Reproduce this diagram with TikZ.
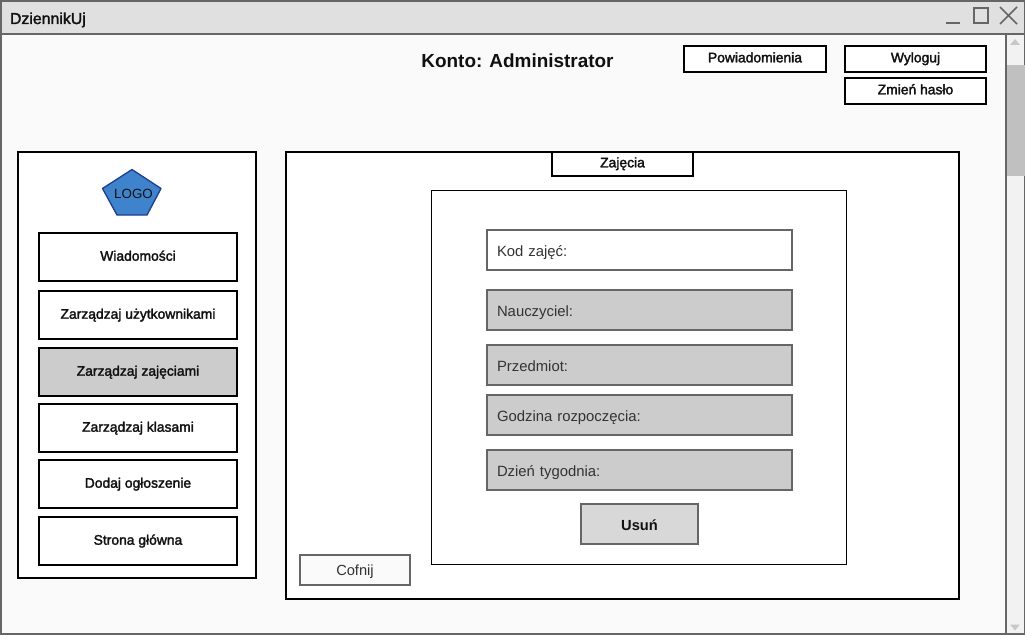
\documentclass[tikz,border=0pt]{standalone}
\usepackage{fontspec}
\setmainfont{Liberation Sans}
\newcommand{\medtext}[1]{\special{pdf:code 2 Tr 0.22 w}#1\special{pdf:code 0 Tr 1 w}}
\definecolor{pagebg}{HTML}{FAFAFA}
\definecolor{barbg}{HTML}{E0E0E0}
\definecolor{edge}{HTML}{666666}
\definecolor{greyfill}{HTML}{CCCCCC}
\definecolor{btnfill}{HTML}{D8D8D8}
\definecolor{scrollbg}{HTML}{F2F2F2}
\definecolor{thumb}{HTML}{C0C0C0}
\definecolor{arrowc}{HTML}{C8C8C8}
\definecolor{logofill}{HTML}{3F83CC}
\definecolor{logoedge}{HTML}{1F3F8F}
\definecolor{titlec}{HTML}{111111}
\definecolor{plainc}{HTML}{333333}
\newcommand{\pxbox}[7][]{\node[#1,minimum width={(#4-#2)*0.75pt},minimum height={(#5-#3)*0.75pt}] (#6) at ({(#2+#4)/2},{(#3+#5)/2}) {#7};}
\newcommand{\pxfield}[7]{\node[field,#6] (#1) at ({(#2+#4)/2},{(#3+#5)/2}) [minimum width={(#4-#2)*0.75pt},minimum height={(#5-#3)*0.75pt},text width={(#4-#2)*0.75pt-15pt}] {#7};}
\tikzset{
  x=0.75pt,y=-0.75pt,
  every node/.style={inner sep=0pt,outer sep=0pt,text=titlec},
  topbtn/.style={draw=black,fill=white,line width=1.5pt,font=\fontsize{10.4}{12}\selectfont,text height=6.5pt,text depth=1.5pt},
  panel/.style={draw=black,fill=white,line width=1.5pt},
  menubtn/.style={draw=black,fill=white,line width=1.5pt,font=\fontsize{10.4}{12}\selectfont,text height=7pt,text depth=1.4pt},
  menuon/.style={menubtn,fill=greyfill},
  field/.style={draw=edge,line width=1.5pt,align=left,inner xsep=7.5pt,font=\fontsize{11.15}{13}\selectfont,text=plainc,text height=9.5pt,text depth=0.5pt},
  plainlabel/.style={font=\fontsize{11}{13}\selectfont,text=plainc,text height=9pt,text depth=1.5pt},
  winline/.style={draw=edge,line width=1.5pt},
  ctrl/.style={draw=edge,line width=1.1pt},
}
\begin{document}
\begin{tikzpicture}
\useasboundingbox (0,0) rectangle (1025,635);
\pxbox[fill=pagebg,winline]{1}{1}{1025}{634}{win}{}
\pxbox[fill=barbg,winline]{1}{1}{1025}{34.5}{bar}{}
\node[anchor=base west,font=\fontsize{11.9}{14}\selectfont] (title) at (10,24) {\medtext{DziennikUj}};
\coordinate (minA) at (946,23); \coordinate (minB) at (960,23);
\draw[ctrl] (minA) -- (minB);
\pxbox[ctrl]{974}{8}{988}{23}{maxbtn}{}
\coordinate (xA) at (1000,7); \coordinate (xB) at (1017,24);
\coordinate (xC) at (1017,7); \coordinate (xD) at (1000,24);
\draw[ctrl] (xA) -- (xB) (xC) -- (xD);
% scrollbar
\pxbox[fill=scrollbg,winline]{1006}{34.5}{1025}{634}{scroll}{}
\fill[thumb] (1007,65) rectangle (1025,176);
\fill[arrowc] (1010,45) -- (1020,45) -- (1015,39) -- cycle;
\fill[arrowc] (1010,624.5) -- (1020,624.5) -- (1015,630.5) -- cycle;
% header
\node[anchor=base,font=\fontsize{14.2}{17}\bfseries] (acct) at (517.5,67.5) {Konto: Administrator};
\pxbox[topbtn]{684}{46}{826}{72}{pow}{\medtext{Powiadomienia}}
\pxbox[topbtn]{845}{46}{986}{72}{wyl}{\medtext{Wyloguj}}
\pxbox[topbtn]{845}{78}{986}{104}{zmien}{\medtext{Zmień hasło}}
% left panel
\pxbox[panel]{18}{152}{256}{578}{left}{}
\fill[logofill,draw=logoedge,line width=1pt,line join=round] (132,169.5) -- (161,188.5) -- (147,215) -- (117,215) -- (102.5,188.5) -- cycle;
\node[anchor=base,font=\fontsize{10}{12}\selectfont] (logo) at (133.5,198.5) {LOGO};
\pxbox[menubtn]{39}{233}{237}{281}{m1}{\medtext{Wiadomości}}
\pxbox[menubtn]{39}{291}{237}{339}{m2}{\medtext{Zarządzaj użytkownikami}}
\pxbox[menuon]{39}{348}{237}{396}{m3}{\medtext{Zarządzaj zajęciami}}
\pxbox[menubtn]{39}{404}{237}{452}{m4}{\medtext{Zarządzaj klasami}}
\pxbox[menubtn]{39}{460}{237}{508}{m5}{\medtext{Dodaj ogłoszenie}}
\pxbox[menubtn]{39}{517}{237}{565}{m6}{\medtext{Strona główna}}
% main panel
\pxbox[panel]{286}{152}{959}{599}{main}{}
\pxbox[topbtn]{552}{152}{693}{176}{tab}{\medtext{Zajęcia}}
\pxbox[draw=black,fill=white,line width=0.75pt]{431.5}{190.5}{846.5}{564.5}{form}{}
\pxfield{f1}{487}{230}{792}{270}{fill=white}{Kod zajęć:}
\pxfield{f2}{487}{290}{792}{330}{fill=greyfill}{Nauczyciel:}
\pxfield{f3}{487}{345}{792}{385}{fill=greyfill}{Przedmiot:}
\pxfield{f4}{487}{395}{792}{435}{fill=greyfill}{Godzina rozpoczęcia:}
\pxfield{f5}{487}{450}{792}{490}{fill=greyfill}{Dzień tygodnia:}
\pxbox[draw=edge,fill=btnfill,line width=1.5pt,font=\fontsize{11}{13}\bfseries,text height=9pt,text depth=0pt]{581}{504}{698}{544}{usun}{Usuń}
\pxbox[draw=edge,fill=pagebg,line width=1.5pt,plainlabel]{300}{555}{410}{585}{cofnij}{Cofnij}
\end{tikzpicture}
\end{document}
